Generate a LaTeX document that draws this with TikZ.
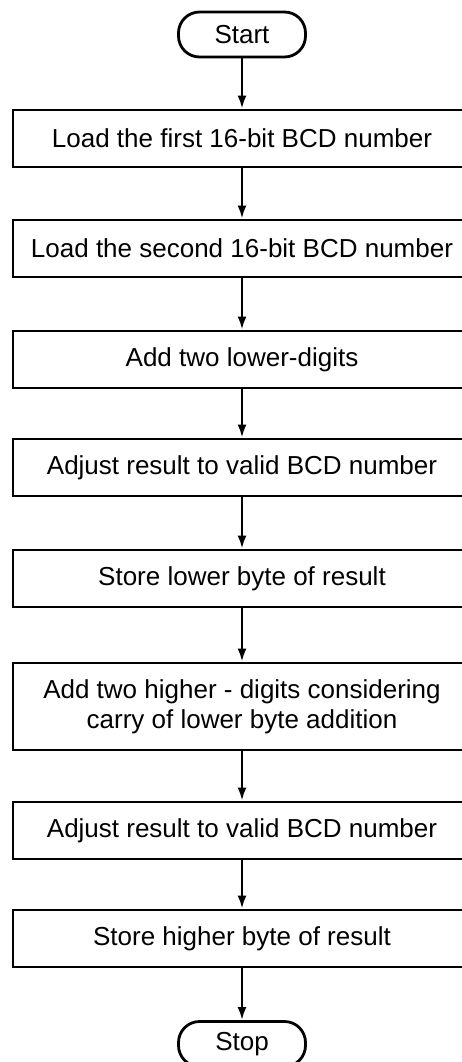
\documentclass[tikz,border=0pt]{standalone}
\usepackage{fontspec}
\setmainfont{Liberation Sans}
\usetikzlibrary{arrows.meta}
\begin{document}
\begin{tikzpicture}[x=1pt,y=1pt,
  every node/.style={font=\fontsize{26}{30}\selectfont},
  procbox/.style={draw,line width=2.8pt,minimum width=464pt,minimum height=57pt,inner sep=0pt},
  termbox/.style={draw,line width=2.8pt,minimum width=127pt,minimum height=45pt,rounded corners=21pt,inner sep=0pt},
  boxtext/.style={inner sep=0pt,align=center},
  flow/.style={line width=2.4pt,-{Latex[length=13pt,width=9pt]}}]
\useasboundingbox (0,0) rectangle (462,-1062);
\fill[white] (0,0) rectangle (462,-1062);
\node[termbox] (start) at (242,-34.5) {Start};
\node[procbox] (b1) at (245,-138.5) {};
\node[boxtext] (t1) at (242,-138.5) {Load the first 16-bit BCD number};
\node[procbox] (b2) at (245,-248.5) {};
\node[boxtext] (t2) at (242,-248.5) {Load the second 16-bit BCD number};
\node[procbox] (b3) at (245,-359.5) {};
\node[boxtext] (t3) at (242,-359.5) {Add two lower-digits};
\node[procbox] (b4) at (245,-467.5) {};
\node[boxtext] (t4) at (242,-467.5) {Adjust result to valid BCD number};
\node[procbox] (b5) at (245,-578.5) {};
\node[boxtext] (t5) at (242,-578.5) {Store lower byte of result};
\node[procbox,minimum height=87pt] (b6) at (245,-706.5) {};
\node[boxtext] (t6) at (242,-706.5) {Add two higher - digits considering\\carry of lower byte addition};
\node[procbox] (b7) at (245,-830.5) {};
\node[boxtext] (t7) at (242,-830.5) {Adjust result to valid BCD number};
\node[procbox] (b8) at (245,-938.5) {};
\node[boxtext] (t8) at (242,-938.5) {Store higher byte of result};
\node[termbox] (stop) at (242,-1044) {Stop};
\draw[flow] (start) -- (b1.north -| start);
\draw[flow] (b1.south -| start) -- (b2.north -| start);
\draw[flow] (b2.south -| start) -- (b3.north -| start);
\draw[flow] (b3.south -| start) -- (b4.north -| start);
\draw[flow] (b4.south -| start) -- (b5.north -| start);
\draw[flow] (b5.south -| start) -- (b6.north -| start);
\draw[flow] (b6.south -| start) -- (b7.north -| start);
\draw[flow] (b7.south -| start) -- (b8.north -| start);
\draw[flow] (b8.south -| start) -- (stop);
\end{tikzpicture}
\end{document}
